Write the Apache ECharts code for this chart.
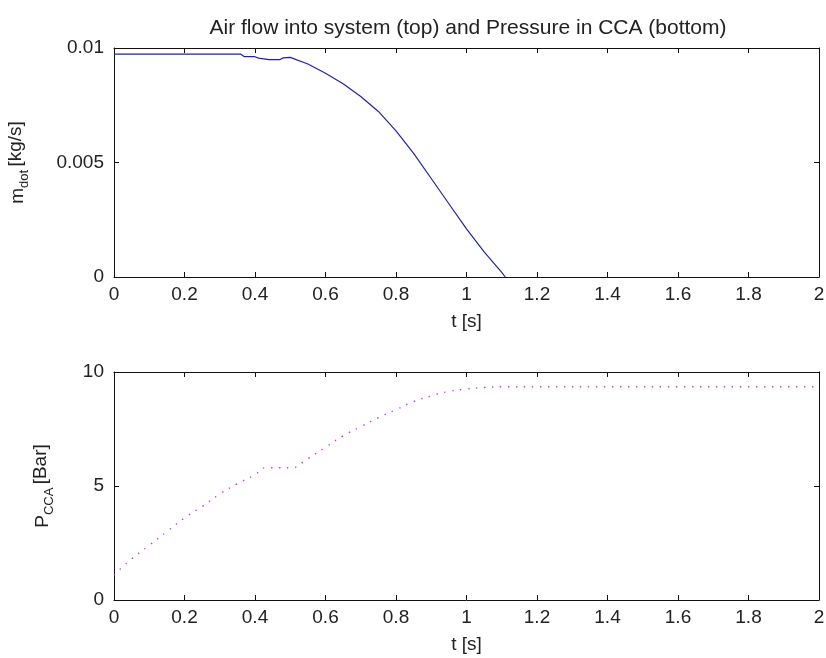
<!DOCTYPE html>
<html>
<head>
<meta charset="utf-8">
<script src="https://cdn.jsdelivr.net/npm/echarts@6/dist/echarts.min.js"></script>
<style>
  html, body { margin: 0; padding: 0; background: #fff; }
  #chart { width: 826px; height: 658px; }
</style>
</head>
<body>
<div id="chart"></div>
<script>
// top: air flow into system
var tFlow = [0, 0.1, 0.2, 0.3, 0.36, 0.37, 0.40, 0.41, 0.44, 0.47, 0.48, 0.50, 0.55, 0.60, 0.65, 0.70, 0.75, 0.80, 0.85, 0.90, 0.95, 1.00, 1.05, 1.10, 1.11];
var mdot = [0.00973, 0.00973, 0.00973, 0.00973, 0.00973, 0.00962, 0.00962, 0.00956, 0.00949, 0.00949, 0.00957, 0.00959, 0.0093, 0.0089, 0.00844, 0.00788, 0.00723, 0.00638, 0.0054, 0.0043, 0.0032, 0.0021, 0.0011, 0.0002, 0];

// bottom: pressure in CCA
var tPres = [0, 0.05, 0.1, 0.15, 0.2, 0.25, 0.3, 0.35, 0.4, 0.43, 0.47, 0.5, 0.55, 0.6, 0.65, 0.7, 0.75, 0.8, 0.85, 0.9, 0.95, 1.0, 1.05, 1.1, 1.2, 1.4, 1.6, 1.8, 2.0];
var pcca = [1.1, 1.8, 2.4, 3.0, 3.6, 4.1, 4.65, 5.1, 5.5, 5.8, 5.8, 5.8, 6.2, 6.7, 7.2, 7.6, 8.0, 8.35, 8.7, 8.95, 9.15, 9.25, 9.32, 9.35, 9.35, 9.35, 9.35, 9.35, 9.35];

var xTicks = ['0', '0.2', '0.4', '0.6', '0.8', '1', '1.2', '1.4', '1.6', '1.8', '2'];

function pairs(xs, ys) {
  return xs.map(function (x, i) { return [x, ys[i]]; });
}

var font = 'Liberation Sans, Arial, sans-serif';
var axisCol = '#111';
var txtCol = '#222';
var fs = 19;

function xAx(grid, pos, labels) {
  return {
    type: 'value', gridIndex: grid, position: pos,
    min: 0, max: 2, interval: 0.2,
    name: labels ? 't [s]' : '', nameLocation: 'middle', nameGap: 35,
    nameTextStyle: { fontFamily: font, fontSize: fs, color: txtCol },
    axisLine: { show: true, onZero: false, lineStyle: { color: axisCol, width: 1 } },
    axisTick: { show: true, inside: true, length: 5, lineStyle: { color: axisCol } },
    axisLabel: {
      show: labels, margin: 8, fontFamily: font, fontSize: fs, color: txtCol,
      formatter: function (v) { return xTicks[Math.round(v / 0.2)]; }
    },
    splitLine: { show: false }
  };
}

function yAx(grid, pos, labels, max, step, name, gap) {
  return {
    type: 'value', gridIndex: grid, position: pos,
    min: 0, max: max, interval: step,
    name: name || '', nameLocation: 'middle', nameGap: gap || 0,
    nameTextStyle: {
      fontFamily: font, color: txtCol,
      rich: {
        n: { fontFamily: font, fontSize: fs, color: txtCol, lineHeight: 26, verticalAlign: 'middle' },
        s: { fontFamily: font, fontSize: 13, color: txtCol, lineHeight: 26, verticalAlign: 'bottom' },
        b: { fontFamily: font, fontSize: fs, color: txtCol, lineHeight: 26, verticalAlign: 'top', padding: [1, 0, 0, 0] }
      }
    },
    axisLine: { show: true, onZero: false, lineStyle: { color: axisCol, width: 1 } },
    axisTick: { show: true, inside: true, length: 5, lineStyle: { color: axisCol } },
    axisLabel: { show: labels, margin: 10, fontFamily: font, fontSize: fs, color: txtCol },
    splitLine: { show: false }
  };
}

var chart = echarts.init(document.getElementById('chart'));
chart.setOption({
  backgroundColor: '#fff',
  animation: false,
  title: {
    text: 'Air flow into system (top) and Pressure in CCA (bottom)',
    left: 463, top: 13, textAlign: 'center',
    textStyle: { fontFamily: font, fontSize: 21, fontWeight: 'normal', color: txtCol }
  },
  grid: [
    { left: 114, top: 48, width: 705, height: 229, containLabel: false, outerBoundsMode: 'none' },
    { left: 114, top: 372, width: 705, height: 228, containLabel: false, outerBoundsMode: 'none' }
  ],
  xAxis: [
    xAx(0, 'bottom', true),
    xAx(0, 'top', false),
    xAx(1, 'bottom', true),
    xAx(1, 'top', false)
  ],
  yAxis: [
    yAx(0, 'left', true, 0.01, 0.005, '{n|m}{s|dot} {b|[kg/s]}', 83),
    yAx(0, 'right', false, 0.01, 0.005),
    yAx(1, 'left', true, 10, 5, '{n|P}{s|CCA} {b|[Bar]}', 58),
    yAx(1, 'right', false, 10, 5)
  ],
  series: [
    {
      type: 'line', xAxisIndex: 0, yAxisIndex: 0,
      data: pairs(tFlow, mdot), showSymbol: false, smooth: false,
      lineStyle: { color: '#2020b0', width: 1.2 }
    },
    {
      type: 'line', xAxisIndex: 2, yAxisIndex: 2,
      data: pairs(tPres, pcca), showSymbol: false, smooth: true,
      lineStyle: { color: '#e030e0', width: 1.4, type: [1.4, 6.6] }
    }
  ]
});
</script>
</body>
</html>
